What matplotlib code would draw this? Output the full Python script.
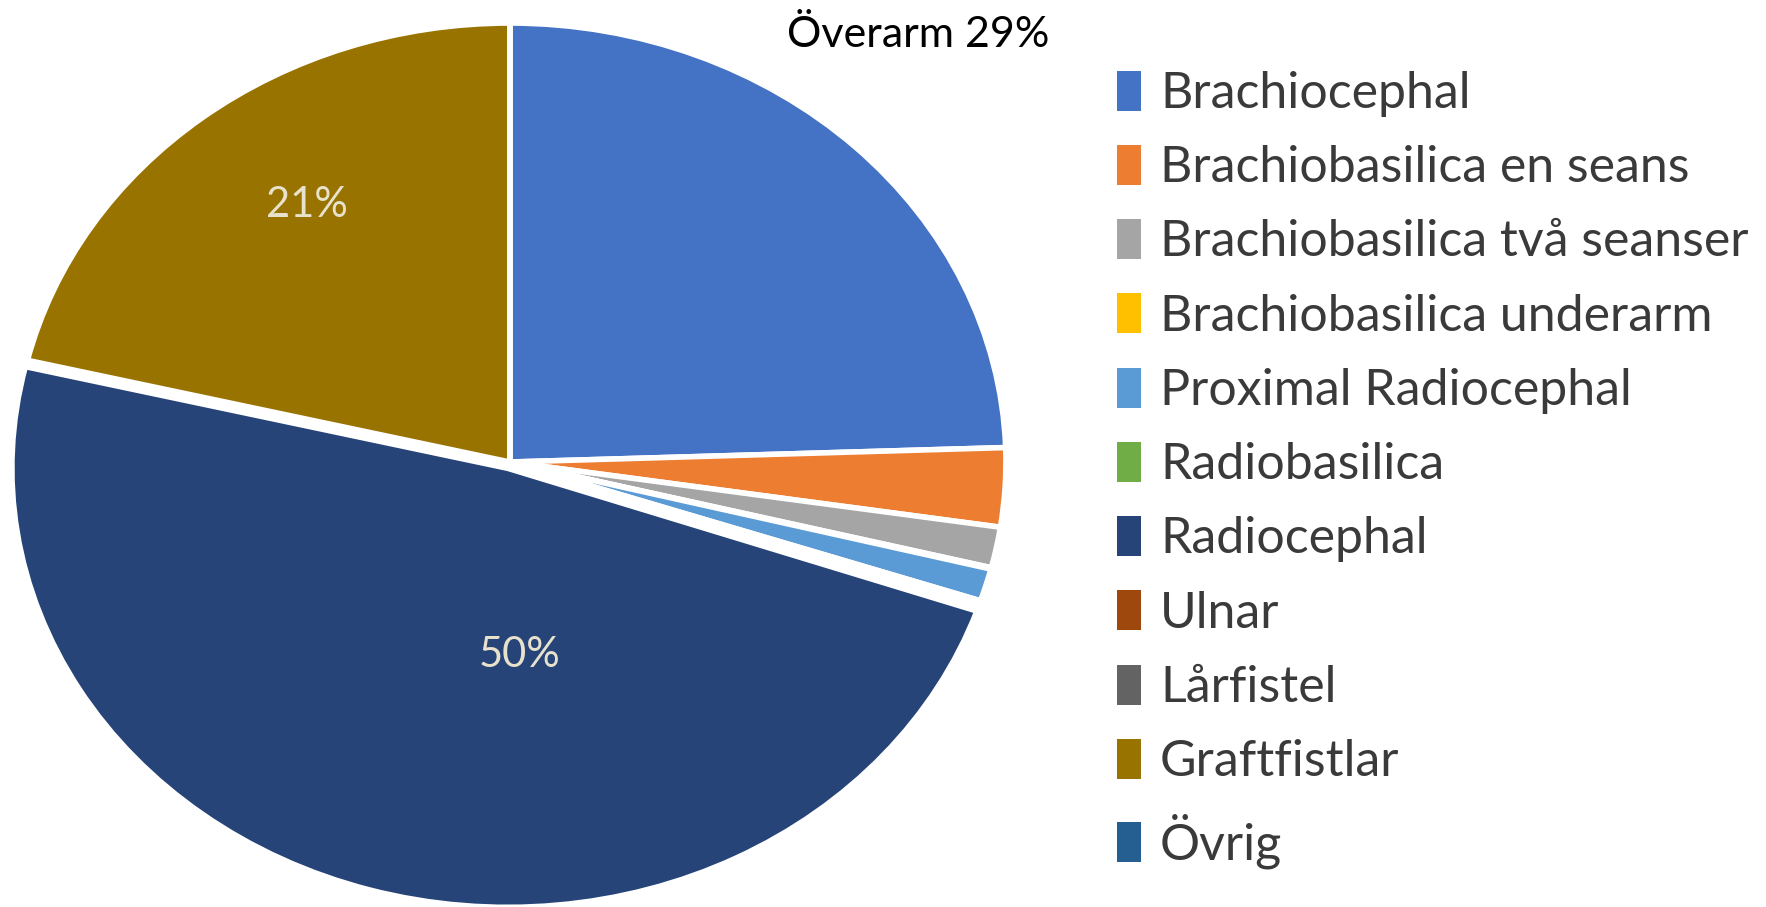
import matplotlib
matplotlib.use("Agg")
import matplotlib.pyplot as plt
from matplotlib.patches import Patch

plt.rcParams['font.family'] = ['Lato', 'DejaVu Sans']

# fistel types, share in percent
categories = ['Brachiocephal', 'Brachiobasilica en seans', 'Brachiobasilica två seanser',
              'Brachiobasilica underarm', 'Proximal Radiocephal', 'Radiobasilica',
              'Radiocephal', 'Ulnar', 'Lårfistel', 'Graftfistlar', 'Övrig']
shares = [24.5, 2.9, 1.5, 0.05, 1.2, 0.15, 48.5, 0.0, 0.0, 21.3, 0.0]
colors = ['#4472C4', '#ED7D31', '#A5A5A5', '#FFC000', '#5B9BD5', '#70AD47',
          '#264478', '#9E480E', '#636363', '#997300', '#255E91']
# labels as printed in the original figure
slice_labels = ['', '', '', '', '', '', '50%', '', '', '21%', '']
overarm_label = 'Överarm 29%'

fig = plt.figure(figsize=(17.66, 9.07), dpi=100)
ax = fig.add_axes([0.0079, 0.0066, 0.5617, 0.968])

explode = [0.015 if c == 'Radiocephal' else 0.0 for c in categories]

wedges, texts, autotexts = ax.pie(shares, colors=colors, startangle=90, counterclock=False,
                                  explode=explode, autopct='%.0f%%', pctdistance=0.71,
                                  wedgeprops=dict(edgecolor='white', linewidth=4),
                                  textprops=dict(color='#E8E2CC', fontsize=30))
ax.set_aspect('auto')
ax.set_xlim(-1, 1)
ax.set_ylim(-1, 1)
for w in wedges:
    w.set_clip_on(False)
for t, lab in zip(autotexts, slice_labels):
    t.set_text(lab)

# Excel placed the labels a bit off the wedge middles
autotexts[categories.index('Radiocephal')].set_position((0.02, -0.44))
autotexts[categories.index('Graftfistlar')].set_position((-0.41, 0.585))

fig.text(0.52, 0.961, overarm_label, fontsize=31, color='black', ha='center', va='center')

handles = [Patch(facecolor=c, edgecolor='none') for c in colors]
fig.legend(handles, categories, loc='upper left', bbox_to_anchor=(0.6325, 0.922),
           frameon=False, fontsize=36, labelcolor='#3A3A3A',
           handlelength=0.48, handleheight=0.85, handletextpad=0.38,
           labelspacing=0.56, borderpad=0, borderaxespad=0)

fig.savefig('out.png', dpi=100)
